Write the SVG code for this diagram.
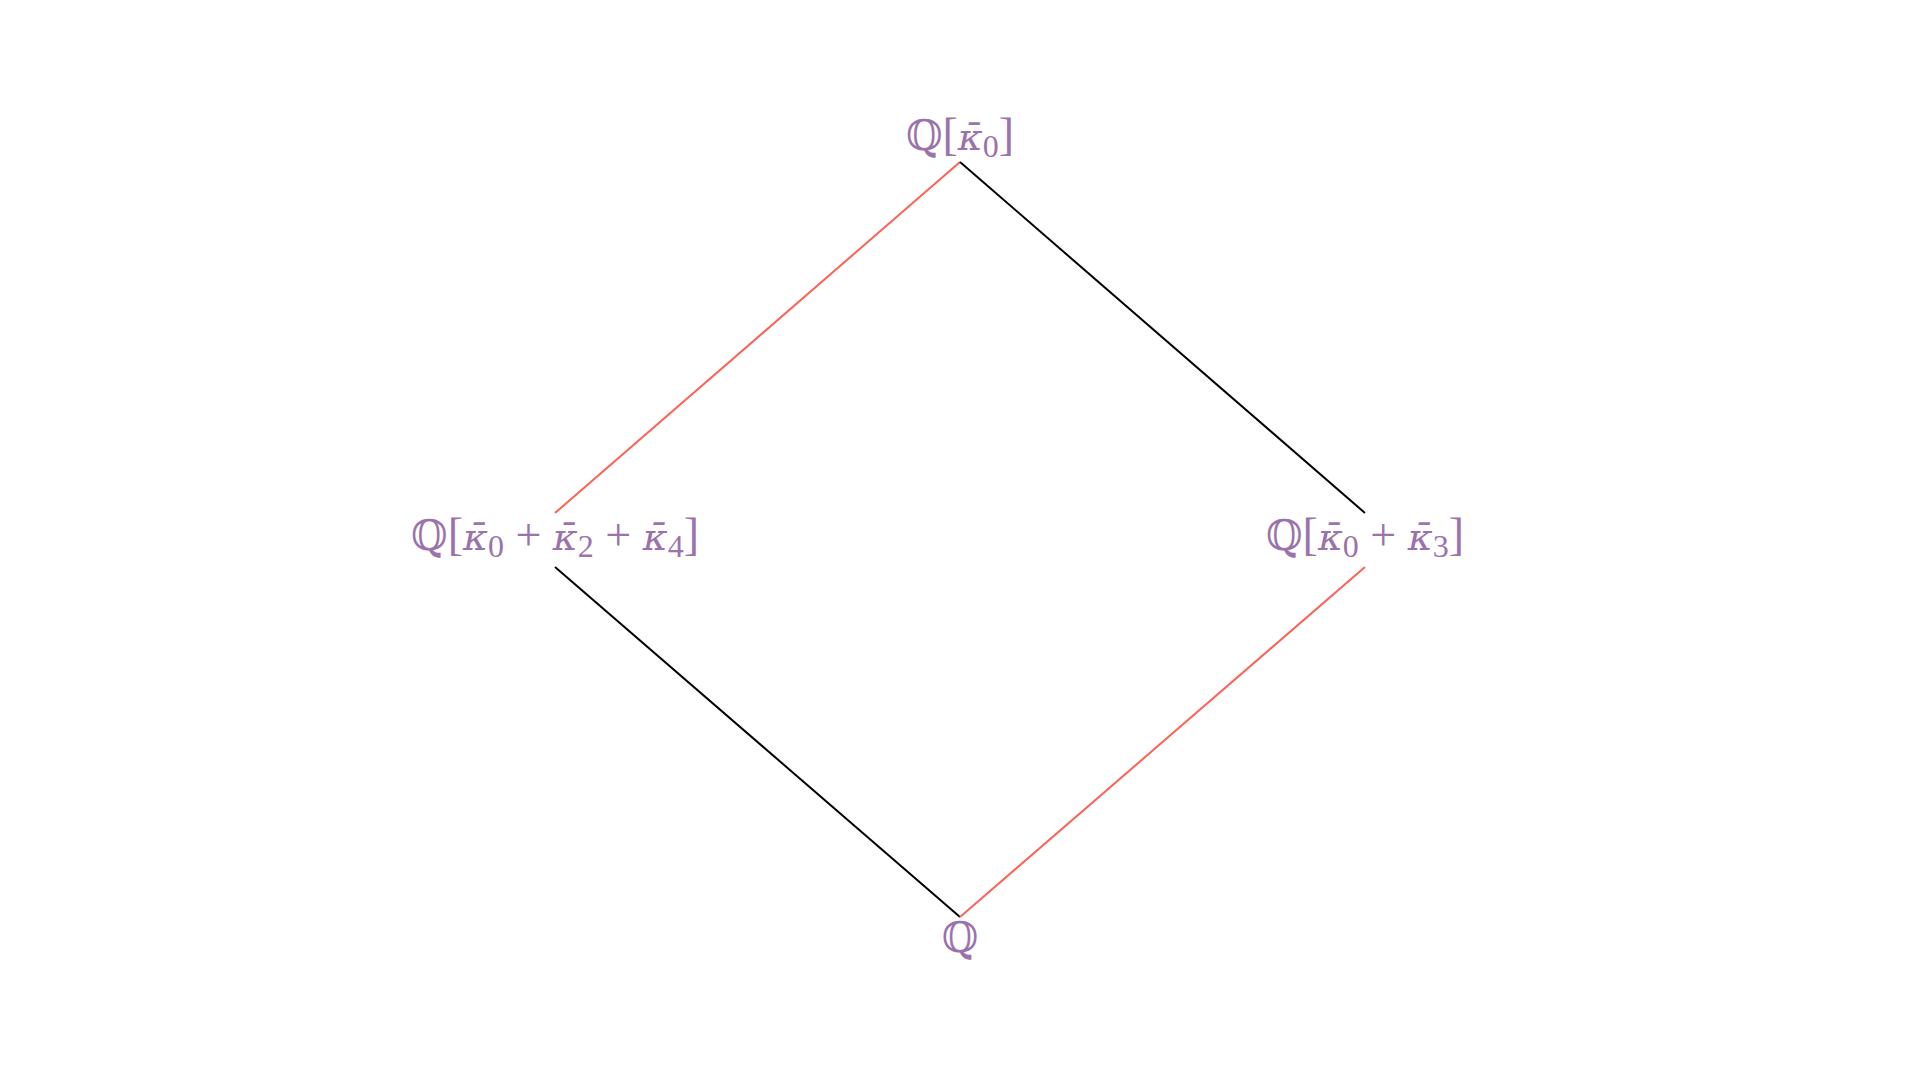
<svg xmlns="http://www.w3.org/2000/svg" width="1920" height="1080" viewBox="0 0 1920 1080">
<style>
.lbl{font-family:"Liberation Serif",serif;font-size:46px;fill:#9A72AC;text-anchor:middle}
.q{font-family:"DejaVu Serif",serif;font-size:42px}
.k{font-family:"DejaVu Serif",serif;font-style:italic;font-size:38px}
.s{font-size:32px}
.p{font-size:46px}
.r{stroke:#FC6255;stroke-width:2;fill:none}
.b{stroke:#000;stroke-width:2;fill:none}
</style>
<rect width="1920" height="1080" fill="#fff"/>
<g id="connectors">
<line class="r" x1="960" y1="162" x2="555" y2="513"/>
<line class="b" x1="960" y1="162" x2="1365" y2="513"/>
<line class="b" x1="555" y1="567" x2="960" y2="917"/>
<line class="r" x1="1365" y1="567" x2="960" y2="917"/>
</g>
<g id="top"><text class="lbl" x="960" y="150"><tspan class="q">ℚ</tspan>[<tspan class="k">κ̄</tspan><tspan class="s" dy="7">0</tspan><tspan dy="-7">]</tspan></text></g>
<g id="left"><text class="lbl" x="555" y="550"><tspan class="q">ℚ</tspan>[<tspan class="k">κ̄</tspan><tspan class="s" dy="7">0</tspan><tspan dy="-7" class="p"> + </tspan><tspan class="k">κ̄</tspan><tspan class="s" dy="7">2</tspan><tspan dy="-7" class="p"> + </tspan><tspan class="k">κ̄</tspan><tspan class="s" dy="7">4</tspan><tspan dy="-7">]</tspan></text></g>
<g id="right"><text class="lbl" x="1365" y="550"><tspan class="q">ℚ</tspan>[<tspan class="k">κ̄</tspan><tspan class="s" dy="7">0</tspan><tspan dy="-7" class="p"> + </tspan><tspan class="k">κ̄</tspan><tspan class="s" dy="7">3</tspan><tspan dy="-7">]</tspan></text></g>
<g id="bottom"><text class="lbl" x="960" y="952"><tspan class="q">ℚ</tspan></text></g>
</svg>
